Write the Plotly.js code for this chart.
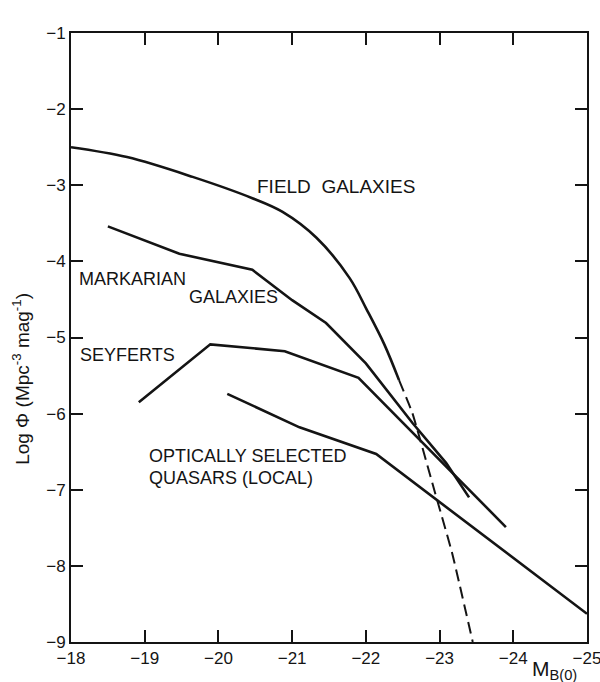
<!DOCTYPE html>
<html>
<head>
<meta charset="utf-8">
<script src="https://cdn.plot.ly/plotly-3.0.1.min.js"></script>
<style>html,body{margin:0;padding:0;background:#fff;}#chart{width:600px;height:682px;}</style>
</head>
<body>
<div id="chart"></div>
<script>
// Data (x = M_B(0), y = log Phi)
const fieldX = [-18.00, -18.76, -19.65, -20.46, -20.87, -21.33, -21.78, -22.01, -22.25, -22.45];
const fieldY = [-2.50, -2.63, -2.89, -3.17, -3.35, -3.69, -4.22, -4.63, -5.09, -5.56];
const fieldDashX = [-22.45, -22.63, -22.93, -23.17, -23.45];
const fieldDashY = [-5.56, -5.99, -7.01, -7.83, -9.00];
const markX = [-18.50, -19.47, -20.46, -21.00, -21.46, -22.00, -22.63, -23.09, -23.40];
const markY = [-3.54, -3.90, -4.11, -4.51, -4.81, -5.34, -6.12, -6.65, -7.10];
const seyX = [-18.92, -19.89, -20.90, -21.90, -23.90];
const seyY = [-5.85, -5.09, -5.18, -5.53, -7.49];
const qsoX = [-20.12, -21.10, -22.14, -25.00];
const qsoY = [-5.74, -6.18, -6.53, -8.63];
const xTicks = [-18, -19, -20, -21, -22, -23, -24, -25];
const yTicks = [-1, -2, -3, -4, -5, -6, -7, -8, -9];

const ink = '#141414';
const lw = 2.6;
const fam = '"Liberation Sans", Arial, sans-serif';

const traces = [
  {x: fieldX, y: fieldY, mode: 'lines', line: {color: ink, width: lw, shape: 'spline', smoothing: 1}},
  {x: fieldDashX, y: fieldDashY, mode: 'lines', line: {color: ink, width: 2, dash: '12px,6px', shape: 'spline', smoothing: 0.4}},
  {x: markX, y: markY, mode: 'lines', line: {color: ink, width: lw}},
  {x: seyX, y: seyY, mode: 'lines', line: {color: ink, width: lw}},
  {x: qsoX, y: qsoY, mode: 'lines', line: {color: ink, width: lw}}
];

function lab(text, x, y, size) {
  return {text: text, x: x, y: y, xref: 'x', yref: 'y', xanchor: 'left', yanchor: 'middle',
          showarrow: false, font: {family: fam, size: size || 18, color: ink}};
}

const layout = {
  width: 600, height: 682,
  margin: {l: 71, r: 13, t: 33, b: 40},
  paper_bgcolor: '#fff', plot_bgcolor: '#fff',
  showlegend: false,
  font: {family: fam, color: ink, size: 17},
  xaxis: {
    range: [-18, -25], tickvals: xTicks, ticktext: xTicks.map(v => '\u2212' + Math.abs(v)),
    ticks: 'inside', ticklen: 12, tickwidth: 2, tickcolor: ink, ticklabeloverflow: 'allow',
    showline: true, linewidth: 2, linecolor: ink, mirror: 'ticks',
    showgrid: false, zeroline: false, tickfont: {family: fam, size: 17, color: ink}
  },
  yaxis: {
    range: [-9, -1], tickvals: yTicks, ticktext: yTicks.map(v => '\u2212' + Math.abs(v)),
    ticks: 'inside', ticklen: 12, tickwidth: 2, tickcolor: ink,
    showline: true, linewidth: 2, linecolor: ink, mirror: 'ticks',
    showgrid: false, zeroline: false, tickfont: {family: fam, size: 17, color: ink}
  },
  annotations: [
    lab('FIELD\u00A0 GALAXIES', -20.49, -3.02, 19),
    lab('MARKARIAN', -18.08, -4.23),
    lab('GALAXIES', -19.58, -4.47),
    lab('SEYFERTS', -18.09, -5.23),
    lab('OPTICALLY SELECTED', -19.03, -6.56),
    lab('QUASARS (LOCAL)', -19.03, -6.85),
    {text: 'Log \u03A6 (Mpc<sup>-3</sup> mag<sup>-1</sup>)', xref: 'paper', yref: 'paper',
     x: -0.097, y: 0.432, textangle: -90, showarrow: false, xanchor: 'center', yanchor: 'middle',
     font: {family: fam, size: 19, color: ink}},
    {text: 'M<sub>B(0)</sub>', xref: 'x', yref: 'paper', x: -24.22, y: -0.046,
     xanchor: 'left', yanchor: 'middle', showarrow: false, font: {family: fam, size: 21, color: ink}}
  ]
};

Plotly.newPlot('chart', traces, layout, {displayModeBar: false, staticPlot: true});
</script>
</body>
</html>
